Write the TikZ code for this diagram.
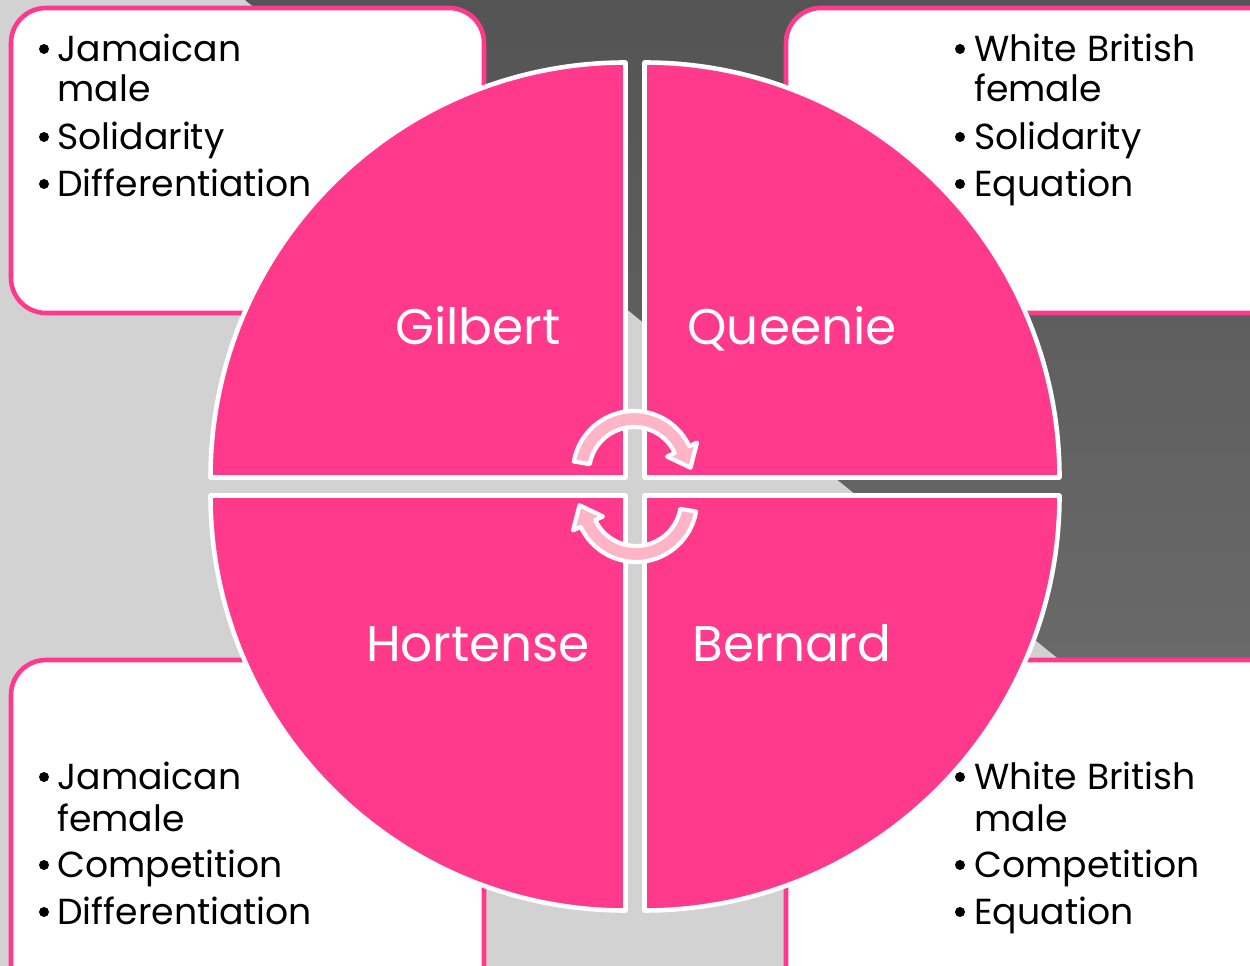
\documentclass[tikz,border=0pt]{standalone}
\usepackage{fontspec}
\setmainfont{Poppins}
\usetikzlibrary{calc}

\definecolor{quadpink}{RGB}{255,58,140}
\definecolor{arrowpink}{RGB}{255,180,200}
\definecolor{paleback}{RGB}{210,210,210}
\definecolor{bandtop}{RGB}{84,84,84}
\definecolor{bandbottom}{RGB}{110,110,110}

\begin{document}
\begin{tikzpicture}[
    x=0.02cm, y=0.02cm,
    % Styles for the components
    infobox/.style={draw=quadpink, fill=white, line width=2.6pt, rounded corners=0.7cm},
    quadrant/.style={draw=white, fill=quadpink, line width=2.6pt, line join=round},
    cyclearrow/.style={draw=white, fill=arrowpink, line width=2.4pt, line join=round},
    namelabel/.style={text=white, font=\fontsize{28.5}{30}\selectfont, anchor=base, inner sep=0pt},
    pointtext/.style={text=black, font=\fontsize{20.6}{23}\selectfont, anchor=base west, inner sep=0pt},
    pointdot/.style={circle, fill=black, inner sep=0pt, minimum size=0.2cm}
]
    \useasboundingbox (0,0) rectangle (1250,966);
    \clip (0,0) rectangle (1250,966);

    % =========================================================================
    % 1. BACKGROUND: PALE GREY WITH DARK DIAGONAL BAND
    % =========================================================================
    \fill[paleback] (0,0) rectangle (1250,966);
    \shade[top color=bandtop, bottom color=bandbottom]
        (245,966) -- (1250,966) -- (1250,152) -- cycle;

    % =========================================================================
    % 2. THE FOUR CORNER BOXES
    % =========================================================================
    \draw[infobox] (11,653) rectangle (484,958);
    \draw[infobox] (786,653) rectangle (1290,958);
    \draw[infobox] (11,-40) rectangle (484,306);
    \draw[infobox] (786,-40) rectangle (1290,306);

    % =========================================================================
    % 3. THE SPLIT CIRCLE (four quarter pies)
    % =========================================================================
    \draw[quadrant] (625.5,488.5) -- (625.5,903.5) arc[start angle=90, end angle=180, radius=415] -- cycle;
    \draw[quadrant] (644.5,488.5) -- (1059.5,488.5) arc[start angle=0, end angle=90, radius=415] -- cycle;
    \draw[quadrant] (625.5,470.5) -- (210.5,470.5) arc[start angle=180, end angle=270, radius=415] -- cycle;
    \draw[quadrant] (644.5,470.5) -- (644.5,55.5) arc[start angle=270, end angle=360, radius=415] -- cycle;

    \node[namelabel] (gilbert) at (478,621) {Gilbert};
    \node[namelabel] (queenie) at (792,621) {Queenie};
    \node[namelabel] (hortense) at (478,304) {Hortense};
    \node[namelabel] (bernard) at (792,304) {Bernard};

    % =========================================================================
    % 4. CIRCULAR ARROWS IN THE MIDDLE
    % =========================================================================
    \coordinate (c1) at (634,494);
    \path[cyclearrow] ($(c1)+(170:61)$) arc[start angle=170, end angle=25, radius=61]
        -- ($(c1)+(25:69.5)$) -- ($(c1)+(25:53)+(-65:20)$) -- ($(c1)+(25:36.5)$)
        -- ($(c1)+(25:45)$) arc[start angle=25, end angle=170, radius=45] -- cycle;

    \coordinate (c2) at (636,465);
    \path[cyclearrow] ($(c2)+(350:61)$) arc[start angle=350, end angle=205, radius=61]
        -- ($(c2)+(205:69.5)$) -- ($(c2)+(205:53)+(115:20)$) -- ($(c2)+(205:36.5)$)
        -- ($(c2)+(205:45)$) arc[start angle=205, end angle=350, radius=45] -- cycle;

    % =========================================================================
    % 5. BULLET TEXTS
    % =========================================================================
    % Gilbert
    \node[pointdot] (gdot1) at (44,917) {};
    \node[pointtext] (gtxt1) at (57,904) {Jamaican};
    \node[pointtext] (gtxt2) at (57,864) {male};
    \node[pointdot] (gdot2) at (44,829) {};
    \node[pointtext] (gtxt3) at (57,816) {Solidarity};
    \node[pointdot] (gdot3) at (44,782) {};
    \node[pointtext] (gtxt4) at (57,769) {Differentiation};

    % Queenie
    \node[pointdot] (qdot1) at (960,917) {};
    \node[pointtext] (qtxt1) at (974,904) {White British};
    \node[pointtext] (qtxt2) at (974,864) {female};
    \node[pointdot] (qdot2) at (960,829) {};
    \node[pointtext] (qtxt3) at (974,816) {Solidarity};
    \node[pointdot] (qdot3) at (960,782) {};
    \node[pointtext] (qtxt4) at (974,769) {Equation};

    % Hortense
    \node[pointdot] (hdot1) at (44,189) {};
    \node[pointtext] (htxt1) at (57,176) {Jamaican};
    \node[pointtext] (htxt2) at (57,134) {female};
    \node[pointdot] (hdot2) at (44,101) {};
    \node[pointtext] (htxt3) at (57,88) {Competition};
    \node[pointdot] (hdot3) at (44,54) {};
    \node[pointtext] (htxt4) at (57,41) {Differentiation};

    % Bernard
    \node[pointdot] (bdot1) at (960,189) {};
    \node[pointtext] (btxt1) at (974,176) {White British};
    \node[pointtext] (btxt2) at (974,134) {male};
    \node[pointdot] (bdot2) at (960,101) {};
    \node[pointtext] (btxt3) at (974,88) {Competition};
    \node[pointdot] (bdot3) at (960,54) {};
    \node[pointtext] (btxt4) at (974,41) {Equation};

\end{tikzpicture}
\end{document}
